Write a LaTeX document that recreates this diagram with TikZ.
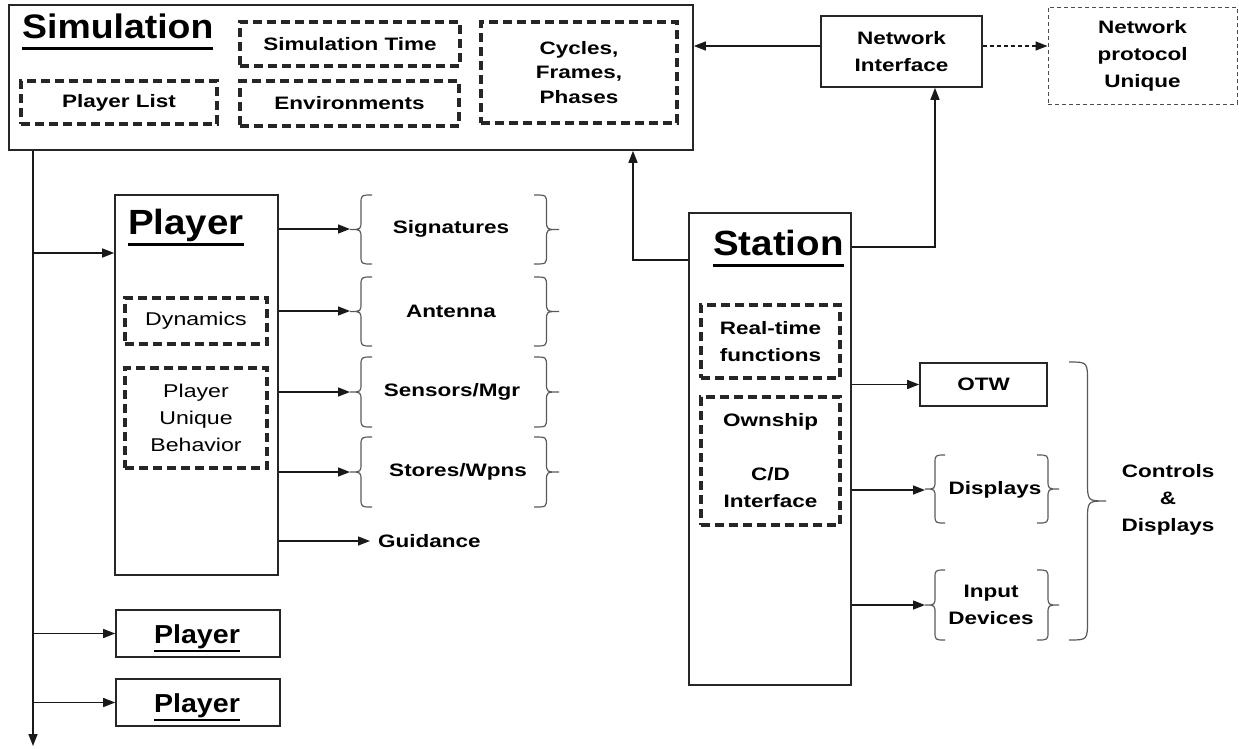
\documentclass[tikz,border=0pt]{standalone}
\usepackage{fontspec}
\newfontfamily\wf{Liberation Sans}[FakeStretch=1.25]
\newfontfamily\wt{Liberation Sans}[FakeStretch=1.1]
\usetikzlibrary{arrows.meta}
\newcommand\lab{\wf\bfseries\fontsize{18}{27}\selectfont}
\newcommand\labc{\wf\bfseries\fontsize{18}{24.5}\selectfont}
\newcommand\regf{\wf\fontsize{18.5}{27}\selectfont}
\newcommand\tfont[1]{\wt\bfseries\fontsize{#1}{#1}\selectfont}
\newcommand\ttl[1]{\setbox0\hbox{#1}\rlap{\rule[-0.34em]{\wd0}{0.09em}}\box0}
\newcommand\Br[5][9]{%
  \pgfmathsetmacro\brx{(#2+#3)/2}\pgfmathsetmacro\bry{(#4+#5)/2}%
  \draw[brc] (#3,#4) .. controls (\brx,#4) .. (\brx,#4+#1) -- (\brx,\bry-#1)
    .. controls (\brx,\bry) .. (#2,\bry) .. controls (\brx,\bry) .. (\brx,\bry+#1)
    -- (\brx,#5-#1) .. controls (\brx,#5) .. (#3,#5);}
\tikzset{
  sbox/.style={draw=black!85, line width=1.6pt, inner sep=0pt},
  dbox/.style={draw=black!85, line width=3.3pt, dash pattern=on 9pt off 5pt, inner sep=0pt},
  tbox/.style={draw=black!70, line width=1pt, dash pattern=on 4pt off 3pt, inner sep=0pt},
  arr/.style={draw=black!90, line width=1.4pt, -{Triangle[length=12pt,width=9pt]}},
  brc/.style={draw=black!65, line width=1.2pt},
  lbl/.style={font=\lab, align=center, inner sep=0pt},
  ttlnode/.style={inner sep=0pt, anchor=base west}
}
\begin{document}
\begin{tikzpicture}[x=1pt,y=-1pt]
\useasboundingbox (0,0) rectangle (1239,748);
% Simulation
\node[sbox, minimum width=684pt, minimum height=145pt] (sim) at (351,77.5) {};
\node[ttlnode, font=\tfont{34}] (simt) at (22,38) {\ttl{Simulation}};
\node[dbox, lbl, minimum width=220pt, minimum height=44pt] (simtime) at (350,44) {Simulation Time};
\node[dbox, lbl, minimum width=196pt, minimum height=43pt] (plist) at (119,102.5) {Player List};
\node[dbox, lbl, minimum width=219pt, minimum height=45pt] (env) at (349.5,103.5) {Environments};
\node[dbox, lbl, font=\labc, minimum width=196pt, minimum height=101pt] (cyc) at (579,72.5) {Cycles,\\Frames,\\Phases};
% Network
\node[sbox, lbl, minimum width=161pt, minimum height=71pt] (ni) at (901.5,51.5) {Network\\Interface};
\node[tbox, lbl, minimum width=189pt, minimum height=97pt] (np) at (1142.5,55.5) {Network\\protocol\\Unique};
\coordinate (c3) at (0,46);
\draw[arr] (ni.west |- c3) -- (sim.east |- c3);
\draw[arr, dash pattern=on 4pt off 3pt] (ni.east |- c3) -- (np.west |- c3);
% Player
\node[sbox, minimum width=163pt, minimum height=380pt] (pl) at (196.5,385) {};
\node[ttlnode, font=\tfont{35}] (plt) at (128,234) {\ttl{Player}};
\node[dbox, font=\regf, align=center, inner sep=0pt, minimum width=142pt, minimum height=46pt] (dyn) at (196,321) {Dynamics};
\node[dbox, font=\regf, align=center, inner sep=0pt, minimum width=142pt, minimum height=100pt] (pub) at (196,418) {Player\\Unique\\Behavior};
\node[lbl] (sig) at (451,229) {Signatures};
\node[lbl] (ant) at (451,311) {Antenna};
\node[lbl] (sen) at (452,392) {Sensors/Mgr};
\node[lbl] (sto) at (458,472) {Stores/Wpns};
\node[lbl, anchor=west] (gui) at (378,541) {Guidance};
\Br{350}{372}{195}{264}\Br{559}{534}{195}{264}
\Br{350}{372}{277}{346}\Br{559}{534}{277}{346}
\Br{350}{372}{357}{427}\Br{559}{534}{357}{427}
\Br{350}{372}{437}{507}\Br{559}{534}{437}{507}
\coordinate (sigL) at (350,229);
\coordinate (antL) at (350,311);
\coordinate (senL) at (350,392);
\coordinate (stoL) at (350,472);
\draw[arr] (pl.east |- sigL) -- (sigL);
\draw[arr] (pl.east |- antL) -- (antL);
\draw[arr] (pl.east |- senL) -- (senL);
\draw[arr] (pl.east |- stoL) -- (stoL);
\draw[arr] (pl.east |- gui.west) -- ([xshift=-8pt]gui.west);
% small players
\node[sbox, minimum width=164pt, minimum height=47pt] (p2) at (198,633.5) {};
\node[inner sep=0pt, anchor=base, font=\tfont{26}] (p2t) at (197,643) {\ttl{Player}};
\node[sbox, minimum width=164pt, minimum height=47pt] (p3) at (198,702.5) {};
\node[inner sep=0pt, anchor=base, font=\tfont{26}] (p3t) at (197,712) {\ttl{Player}};
% bus
\coordinate (bus) at (33,746);
\coordinate (b1) at (33,253);
\draw[arr] (sim.south -| bus) -- (bus);
\draw[arr] (b1) -- (pl.west |- b1);
\draw[arr] (bus |- p2.west) -- (p2.west);
\draw[arr] (bus |- p3.west) -- (p3.west);
% Station
\node[sbox, minimum width=162pt, minimum height=472pt] (st) at (770,449) {};
\node[ttlnode, font=\tfont{35}] (stt) at (713,255) {\ttl{Station}};
\node[dbox, lbl, minimum width=139pt, minimum height=73pt] (rt) at (770.5,341.5) {Real-time\\functions};
\node[dbox, lbl, minimum width=139pt, minimum height=128pt] (own) at (770.5,461) {Ownship\\\mbox{}\\C/D\\Interface};
\coordinate (c1) at (633,260);
\coordinate (c2) at (935,247);
\draw[arr] (st.west |- c1) -| (sim.south -| c1);
\draw[arr] (st.east |- c2) -| (ni.south -| c2);
% Controls & displays
\node[sbox, lbl, minimum width=127pt, minimum height=43pt] (otw) at (983.5,384.5) {OTW};
\node[lbl] (dsp) at (995,490) {Displays};
\node[lbl] (inp) at (991,605) {Input\\Devices};
\Br{925}{945}{455}{523}\Br{1059}{1037}{455}{523}
\Br{925}{945}{570}{640}\Br{1059}{1037}{570}{640}
\Br[20]{1106}{1069}{362}{640}
\node[lbl] (cd) at (1168,500) {Controls\\\&\\Displays};
\coordinate (dspL) at (925,490);
\coordinate (inpL) at (925,605);
\draw[arr] (st.east |- otw.west) -- (otw.west);
\draw[arr] (st.east |- dspL) -- (dspL);
\draw[arr] (st.east |- inpL) -- (inpL);
\end{tikzpicture}
\end{document}
